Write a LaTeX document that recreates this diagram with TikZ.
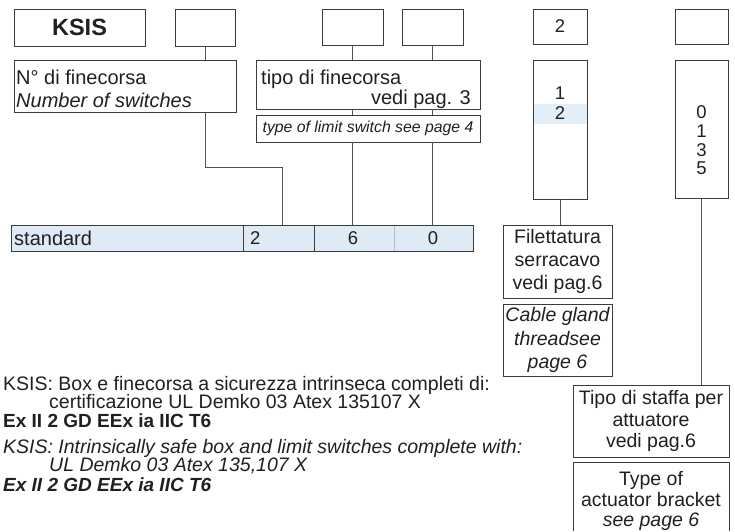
\documentclass[tikz,border=0pt]{standalone}
\usepackage{fontspec}
\setmainfont{Liberation Sans}
\definecolor{linec}{HTML}{3C3C3C}
\definecolor{connc}{HTML}{505050}
\definecolor{txtc}{HTML}{231F20}
\definecolor{barfill}{HTML}{DEEAF6}
\definecolor{hlfill}{HTML}{E2EFF9}
\definecolor{divc}{HTML}{B0BCC8}
\begin{document}
\begin{tikzpicture}[x=1pt,y=-1pt,
  box/.style={draw=linec, line width=0.9pt, inner sep=0pt, text=txtc, font=\fontsize{19.5}{23}\selectfont, align=center},
  conn/.style={draw=connc, line width=0.9pt},
  lbl/.style={inner sep=0pt, text=txtc, font=\fontsize{20}{23}\selectfont},
  note/.style={inner sep=0pt, text=txtc, anchor=base west, font=\fontsize{19.5}{23}\selectfont},
  digit/.style={inner sep=0pt, text=txtc, font=\fontsize{18.5}{22}\selectfont}]
\useasboundingbox (0,0) rectangle (735,531);

% top code boxes
\node[box, minimum width=131pt, minimum height=37pt, font=\bfseries\fontsize{23.5}{26}\selectfont] (ksis) at (79.5,27.5) {KSIS};
\node[box, minimum width=60pt, minimum height=37pt] (b2) at (205,27.5) {};
\node[box, minimum width=61pt, minimum height=36pt] (b3) at (352.5,27) {};
\node[box, minimum width=61pt, minimum height=36pt] (b4) at (432.5,27) {};
\node[box, minimum width=54pt, minimum height=35pt, font=\fontsize{18.5}{22}\selectfont] (b5) at (560,26.5) {2};
\node[box, minimum width=53pt, minimum height=35pt] (b6) at (701.5,26.5) {};

% description boxes
\node[box, minimum width=222pt, minimum height=52pt] (nfin) at (125,86) {};
\node[lbl, anchor=base west] (nfin1) at (16,84) {N° di finecorsa};
\node[lbl, anchor=base west] (nfin2) at (16,107) {\itshape Number of switches};

\node[box, minimum width=224pt, minimum height=49pt] (tipo) at (368,84.5) {};
\node[lbl, anchor=base west] (tipo1) at (261,84) {tipo di finecorsa};
\node[lbl, anchor=base east] (tipo2) at (471,104.5) {vedi pag. 3};
\node[box, minimum width=224pt, minimum height=27pt, font=\itshape\fontsize{15.8}{18}\selectfont] (type) at (368,128.5) {type of limit switch see page 4};

% columns
\fill[hlfill] (533.5,104) rectangle (586.5,124);
\node[box, minimum width=54pt, minimum height=139pt] (col1) at (560,129.5) {};
\node[digit] (c1a) at (560,93) {1};
\node[digit] (c1b) at (560,113) {2};

\node[box, minimum width=53pt, minimum height=138pt] (col2) at (701.5,129) {};
\node[digit] (c2a) at (701.5,112) {0};
\node[digit] (c2b) at (701.5,131) {1};
\node[digit] (c2c) at (701.5,150) {3};
\node[digit] (c2d) at (701.5,168.5) {5};

% standard bar
\node[box, fill=barfill, minimum width=232pt, minimum height=26pt, anchor=north west] (barA) at (11,225) {};
\node[lbl, anchor=west] (barAt) at (14,238.5) {standard};
\node[box, fill=barfill, minimum width=71pt, minimum height=26pt, anchor=north west] (barB) at (243,225) {};
\node[digit, anchor=west] (barBt) at (250,238.5) {2};
\node[box, fill=barfill, minimum width=159pt, minimum height=26pt, anchor=north west] (barC) at (314,225) {};
\draw[divc, line width=0.8pt] ([yshift=-0.5pt]barC.north) -- ([yshift=0.5pt]barC.south);
\node[digit] (barC1) at (353,238.5) {6};
\node[digit] (barC2) at (433,238.5) {0};

% lower boxes
\node[box, minimum width=109pt, minimum height=73pt] (filet) at (557.5,261.5) {Filettatura\\serracavo\\vedi pag.6};
\node[box, minimum width=109pt, minimum height=72pt, font=\itshape\fontsize{19.5}{23.5}\selectfont] (cable) at (557.5,340) {Cable gland\\threadsee\\page 6};
\node[box, minimum width=156pt, minimum height=72pt, font=\fontsize{19.5}{21.5}\selectfont] (staffa) at (651,421) {Tipo di staffa per\\attuatore\\vedi pag.6};
\node[inner sep=0pt, text=txtc, align=center, font=\fontsize{19.5}{20.5}\selectfont] (typeact) at (651,501) {Type of\\actuator bracket\\\textit{see page 6}};
\coordinate (taL) at (573,531);
\coordinate (taR) at (729,531);
\draw[draw=linec, line width=0.9pt] (taL) |- (729,462) -- (taR);

% connectors
\coordinate (barB2) at (282,225);
\draw[conn] (b2.south) -- (b2.south |- nfin.north);
\draw[conn] (b2.south |- nfin.south) -- ++(0,55) -| (barB2);
\draw[conn] (b3.south) -- (b3.south |- tipo.north);
\draw[conn] (b3.south |- tipo.south) -- (b3.south |- type.north);
\draw[conn] (b3.south |- type.south) -- (b3.south |- barC.north);
\draw[conn] (b4.south) -- (b4.south |- tipo.north);
\draw[conn] (b4.south |- tipo.south) -- (b4.south |- type.north);
\draw[conn] (b4.south |- type.south) -- (b4.south |- barC.north);
\draw[conn] (col1.south) -- (col1.south |- filet.north);
\draw[conn] (col2.south) -- (col2.south |- staffa.north);

% notes
\node[note] (n1) at (3,390) {KSIS: Box e finecorsa a sicurezza intrinseca completi di:};
\node[note] (n2) at (49,408.5) {certificazione UL Demko 03 Atex 135107 X};
\node[note, font=\bfseries\fontsize{19}{22}\selectfont] (n3) at (3,427) {Ex II 2 GD EEx ia IIC T6};
\node[note, font=\itshape\fontsize{19.5}{23}\selectfont] (n4) at (3,453) {KSIS: Intrinsically safe box and limit switches complete with:};
\node[note, font=\itshape\fontsize{19.5}{23}\selectfont] (n5) at (49,471.5) {UL Demko 03 Atex 135,107 X};
\node[note, font=\bfseries\itshape\fontsize{19}{22}\selectfont] (n6) at (3,491) {Ex II 2 GD EEx ia IIC T6};
\end{tikzpicture}
\end{document}
